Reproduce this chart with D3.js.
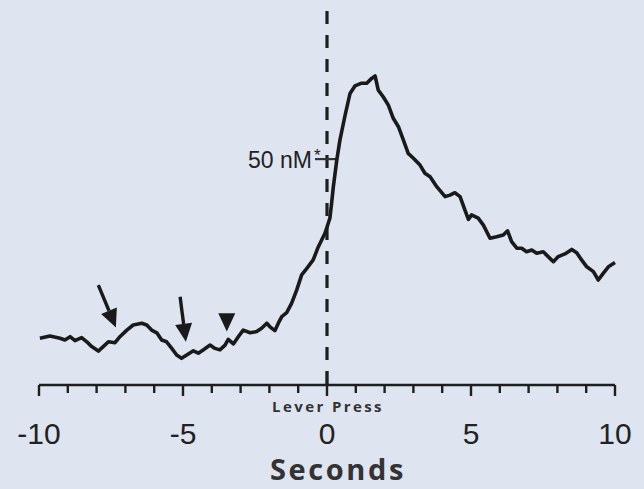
<!DOCTYPE html>
<html lang="en">
<head>
  <meta charset="utf-8">
  <title>Lever Press trace</title>
  <script src="https://cdn.jsdelivr.net/npm/d3@7"></script>
  <style>
    body { margin: 0; background: #dee4f0; overflow: hidden; }
    svg { display: block; }
    .tick-label { font: 30px 'Liberation Sans', Arial, sans-serif; fill: #222; }
    .lever { font: bold 15px 'Open Sans', sans-serif; fill: #333; letter-spacing: 2.4px; }
    .xtitle { font: bold 29px 'Open Sans', sans-serif; fill: #333; letter-spacing: 2.6px; }
    .scale-label { font: 23px 'Liberation Sans', Arial, sans-serif; fill: #222; }
  </style>
</head>
<body>
<div id="chart"></div>
<script>
// time (s) relative to lever press
const time = [-9.97, -9.62, -9.27, -9.10, -8.92, -8.75, -8.52, -8.34, -8.17, -7.94,
  -7.77, -7.59, -7.36, -7.19, -6.95, -6.73, -6.43, -6.26, -6.09, -5.91,
  -5.74, -5.57, -5.39, -5.22, -5.05, -4.87, -4.64, -4.47, -4.30, -4.06,
  -3.89, -3.72, -3.54, -3.43, -3.25, -3.08, -2.91, -2.67, -2.44, -2.27,
  -2.09, -1.98, -1.81, -1.69, -1.57, -1.40, -1.23, -1.05, -0.88, -0.70,
  -0.48, -0.30, -0.07, 0.10, 0.16, 0.22, 0.34, 0.45, 0.63, 0.80,
  0.97, 1.20, 1.38, 1.55, 1.67, 1.78, 1.95, 2.13, 2.30, 2.48,
  2.65, 2.82, 3.00, 3.23, 3.40, 3.58, 3.81, 4.10, 4.27, 4.44,
  4.62, 4.79, 4.91, 5.02, 5.25, 5.43, 5.66, 5.89, 6.12, 6.27,
  6.41, 6.59, 6.76, 6.93, 7.11, 7.28, 7.51, 7.68, 7.86, 8.03,
  8.26, 8.50, 8.67, 8.84, 9.02, 9.25, 9.42, 9.59, 9.77, 10.0];

// dopamine signal (nM, arbitrary baseline)
const signal = [15.6, 16.3, 15.6, 15.0, 16.1, 14.8, 15.8, 14.4, 12.8, 11.3,
  12.8, 14.4, 14.1, 16.1, 18.3, 20.0, 20.6, 20.0, 18.3, 17.4,
  15.0, 14.4, 12.2, 10.0, 8.9, 10.0, 11.4, 10.6, 11.7, 13.3,
  12.2, 11.7, 13.3, 15.2, 13.7, 16.1, 18.3, 17.4, 17.8, 18.9,
  20.6, 19.4, 18.1, 20.6, 22.8, 24.1, 27.2, 31.7, 36.7, 38.9,
  41.7, 46.1, 50.6, 55.6, 60.6, 66.1, 75.0, 81.7, 90.0, 97.2,
  99.7, 100.6, 100.6, 102.2, 103.0, 98.3, 96.1, 93.3, 88.9, 86.1,
  81.7, 77.2, 75.6, 73.3, 70.6, 69.4, 66.1, 62.8, 63.3, 64.1,
  62.8, 58.3, 55.2, 56.7, 55.6, 53.3, 48.9, 49.4, 50.0, 51.4,
  47.8, 45.6, 45.6, 44.4, 45.0, 43.9, 44.4, 42.8, 41.1, 42.8,
  43.7, 45.2, 44.1, 41.7, 39.4, 37.8, 35.0, 37.2, 39.4, 40.8];

const tickValues = d3.range(-10, 11, 1);
const tickLabels = [-10, -5, 0, 5, 10];

// annotation arrows: [tail t, tail v, tip t, tip v]
const arrows = [[-7.94, 33.3, -7.33, 19.2], [-5.10, 29.4, -4.90, 14.4]];
const triangles = [[-3.48, 23.9, 17.8]]; // t, top v, tip v
const scaleBar = { t: 0, v: 75.3, label: "50 nM" };

const width = 644, height = 489;
const x = d3.scaleLinear().domain([-10, 10]).range([39, 615]);
const y = d3.scaleLinear().domain([0, 125]).range([385, 10]);

const svg = d3.select("#chart").append("svg")
  .attr("width", width).attr("height", height);

svg.append("rect").attr("width", width).attr("height", height).attr("fill", "#dee4f0");

// dashed lever press line
svg.append("line")
  .attr("x1", x(0)).attr("x2", x(0))
  .attr("y1", 11).attr("y2", y(0))
  .attr("stroke", "#1e1e1e").attr("stroke-width", 3.2)
  .attr("stroke-dasharray", "13 11");

// axis
const axis = svg.append("g").attr("transform", `translate(0,${y(0)})`);
axis.append("line")
  .attr("x1", x(-10)).attr("x2", x(10))
  .attr("stroke", "#1e1e1e").attr("stroke-width", 2.6);
axis.selectAll("line.tk").data(tickValues).enter().append("line")
  .attr("class", "tk")
  .attr("x1", d => x(d)).attr("x2", d => x(d))
  .attr("y1", d => d === 0 ? -14 : 0)
  .attr("y2", d => d % 5 === 0 ? 11 : 8)
  .attr("stroke", "#1e1e1e").attr("stroke-width", 2.4);
axis.selectAll("text.tick-label").data(tickLabels).enter().append("text")
  .attr("class", "tick-label")
  .attr("x", d => x(d)).attr("y", 59)
  .attr("text-anchor", "middle")
  .text(d => d);

svg.append("text").attr("class", "lever")
  .attr("x", x(0) + 1).attr("y", 412).attr("text-anchor", "middle")
  .text("Lever Press");

svg.append("text").attr("class", "xtitle")
  .attr("x", x(0) + 11).attr("y", 480).attr("text-anchor", "middle")
  .text("Seconds");

// scale bar
svg.append("line")
  .attr("x1", x(scaleBar.t) - 12).attr("x2", x(scaleBar.t) + 11)
  .attr("y1", y(scaleBar.v)).attr("y2", y(scaleBar.v))
  .attr("stroke", "#333").attr("stroke-width", 2.2);
svg.append("text").attr("class", "scale-label")
  .attr("x", x(scaleBar.t) - 15).attr("y", y(scaleBar.v) + 9)
  .attr("text-anchor", "end")
  .text(scaleBar.label);
svg.append("text").attr("class", "scale-label")
  .attr("x", x(scaleBar.t) - 13).attr("y", y(scaleBar.v) + 2)
  .style("font-size", "17px")
  .text("*");

// trace
const line = d3.line().x(d => x(d[0])).y(d => y(d[1]));
svg.append("path")
  .datum(time.map((t, i) => [t, signal[i]]))
  .attr("d", line)
  .attr("fill", "none")
  .attr("stroke", "#1a1a1a")
  .attr("stroke-width", 3.6)
  .attr("stroke-linejoin", "round");

// arrows
arrows.forEach(a => {
  const x1 = x(a[0]), y1 = y(a[1]), x2 = x(a[2]), y2 = y(a[3]);
  const ang = Math.atan2(y2 - y1, x2 - x1);
  const hl = 18, hw = 8.5;
  const bx = x2 - hl * Math.cos(ang), by = y2 - hl * Math.sin(ang);
  svg.append("line")
    .attr("x1", x1).attr("y1", y1).attr("x2", bx).attr("y2", by)
    .attr("stroke", "#1a1a1a").attr("stroke-width", 3.4);
  const px = -Math.sin(ang) * hw, py = Math.cos(ang) * hw;
  svg.append("path")
    .attr("d", `M${x2},${y2}L${bx + px},${by + py}L${bx - px},${by - py}Z`)
    .attr("fill", "#1a1a1a");
});

triangles.forEach(t => {
  const cx = x(t[0]), top = y(t[1]), tip = y(t[2]);
  svg.append("path")
    .attr("d", `M${cx - 8.5},${top}L${cx + 8.5},${top}L${cx},${tip}Z`)
    .attr("fill", "#1a1a1a");
});
</script>
</body>
</html>
